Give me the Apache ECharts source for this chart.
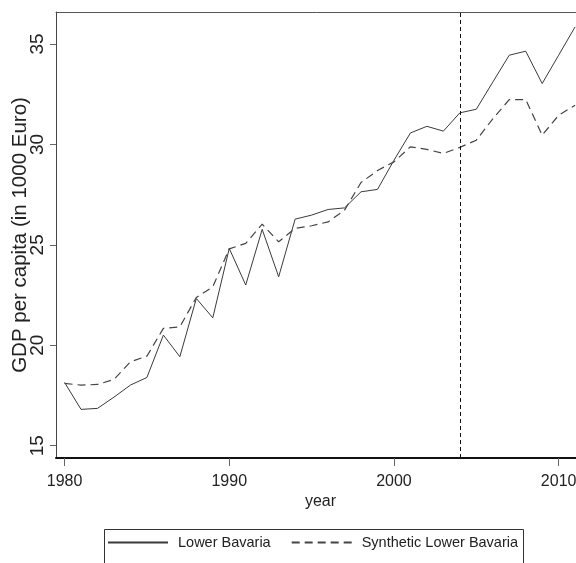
<!DOCTYPE html>
<html>
<head>
<meta charset="utf-8">
<script src="https://cdn.jsdelivr.net/npm/echarts@6/dist/echarts.min.js"></script>
<style>html,body{margin:0;padding:0;background:#fff}#c{width:576px;height:563px}</style>
</head>
<body>
<div id="c"></div>
<script>
const years = [1980,1981,1982,1983,1984,1985,1986,1987,1988,1989,1990,1991,1992,1993,1994,1995,1996,1997,1998,1999,2000,2001,2002,2003,2004,2005,2006,2007,2008,2009,2010,2011];
const lowerBavaria = [18.15,16.81,16.86,17.42,18.02,18.4,20.51,19.43,22.33,21.37,24.82,23.0,25.77,23.41,26.28,26.48,26.76,26.84,27.64,27.76,29.21,30.57,30.9,30.66,31.57,31.75,33.1,34.44,34.64,33.03,34.44,35.85];
const syntheticLowerBavaria = [18.1,18.02,18.05,18.3,19.18,19.46,20.84,20.92,22.38,22.91,24.8,25.07,26.03,25.15,25.82,25.95,26.14,26.73,28.1,28.7,29.13,29.88,29.75,29.55,29.85,30.21,31.27,32.23,32.23,30.46,31.45,31.95];
const treatmentYear = 2004;
const xTicks = [1980,1990,2000,2010];
const yTicks = [15,20,25,30,35];
const seriesNames = ['Lower Bavaria','Synthetic Lower Bavaria'];

const chart = echarts.init(document.getElementById('c'), null, {renderer:'canvas'});
const txt = '#222';
const sans = '"Liberation Sans", Arial, sans-serif';
chart.setOption({
  animation:false,
  backgroundColor:'#fff',
  grid:{left:56, top:12, width:529, height:446, containLabel:false, outerBoundsMode:'none'},
  xAxis:[{
    type:'value', min:1979.48, max:2011.6,
    name:'year', nameLocation:'middle', nameGap:36, nameMoveOverlap:false,
    nameTextStyle:{fontFamily:sans, fontSize:16, color:txt},
    axisLine:{show:true, onZero:false, lineStyle:{color:'#111', width:2}},
    axisTick:{show:true, length:8, customValues:xTicks, lineStyle:{color:'#666', width:1}},
    axisLabel:{customValues:xTicks, margin:16, fontFamily:sans, fontSize:16, color:txt, formatter:v=>String(v)},
    splitLine:{show:false}
  },{
    type:'value', position:'top', min:1979.48, max:2011.6,
    axisLine:{show:true, lineStyle:{color:'#555', width:1}},
    axisTick:{show:false}, axisLabel:{show:false}, splitLine:{show:false}
  }],
  yAxis:{
    type:'value', min:14.39, max:36.59,
    name:'GDP per capita (in 1000 Euro)', nameLocation:'middle', nameGap:25, nameMoveOverlap:false,
    nameTextStyle:{fontFamily:sans, fontSize:20.5, color:txt},
    axisLine:{show:true, onZero:false, lineStyle:{color:'#444', width:1}},
    axisTick:{show:true, length:6, customValues:yTicks, lineStyle:{color:'#666', width:1}},
    axisLabel:{customValues:yTicks, rotate:90, margin:9, fontFamily:sans, fontSize:19, color:txt},
    splitLine:{show:false}
  },
  legend:{
    left:107, top:535, padding:0, itemWidth:60, itemHeight:14, itemGap:20,
    itemStyle:{opacity:0},
    textStyle:{fontFamily:sans, fontSize:14.5, color:txt, padding:[0,0,0,5]},
    data:seriesNames
  },
  graphic:[{
    type:'rect', left:102, top:527, shape:{width:419, height:50},
    style:{fill:'none', stroke:'#333', lineWidth:1}, silent:true
  }],
  series:[{
    name:seriesNames[0], type:'line', symbol:'none',
    data:years.map((y,i)=>[y, lowerBavaria[i]]),
    lineStyle:{color:'#3a3a3a', width:1, type:'solid'},
    itemStyle:{color:'#3a3a3a'},
    markLine:{
      silent:true, symbol:'none', label:{show:false},
      lineStyle:{color:'#111', width:1, type:[4,3]},
      data:[{xAxis:treatmentYear}]
    }
  },{
    name:seriesNames[1], type:'line', symbol:'none',
    data:years.map((y,i)=>[y, syntheticLowerBavaria[i]]),
    lineStyle:{color:'#444', width:1.2, type:[8,5]},
    itemStyle:{color:'#444'}
  }]
});
</script>
</body>
</html>
